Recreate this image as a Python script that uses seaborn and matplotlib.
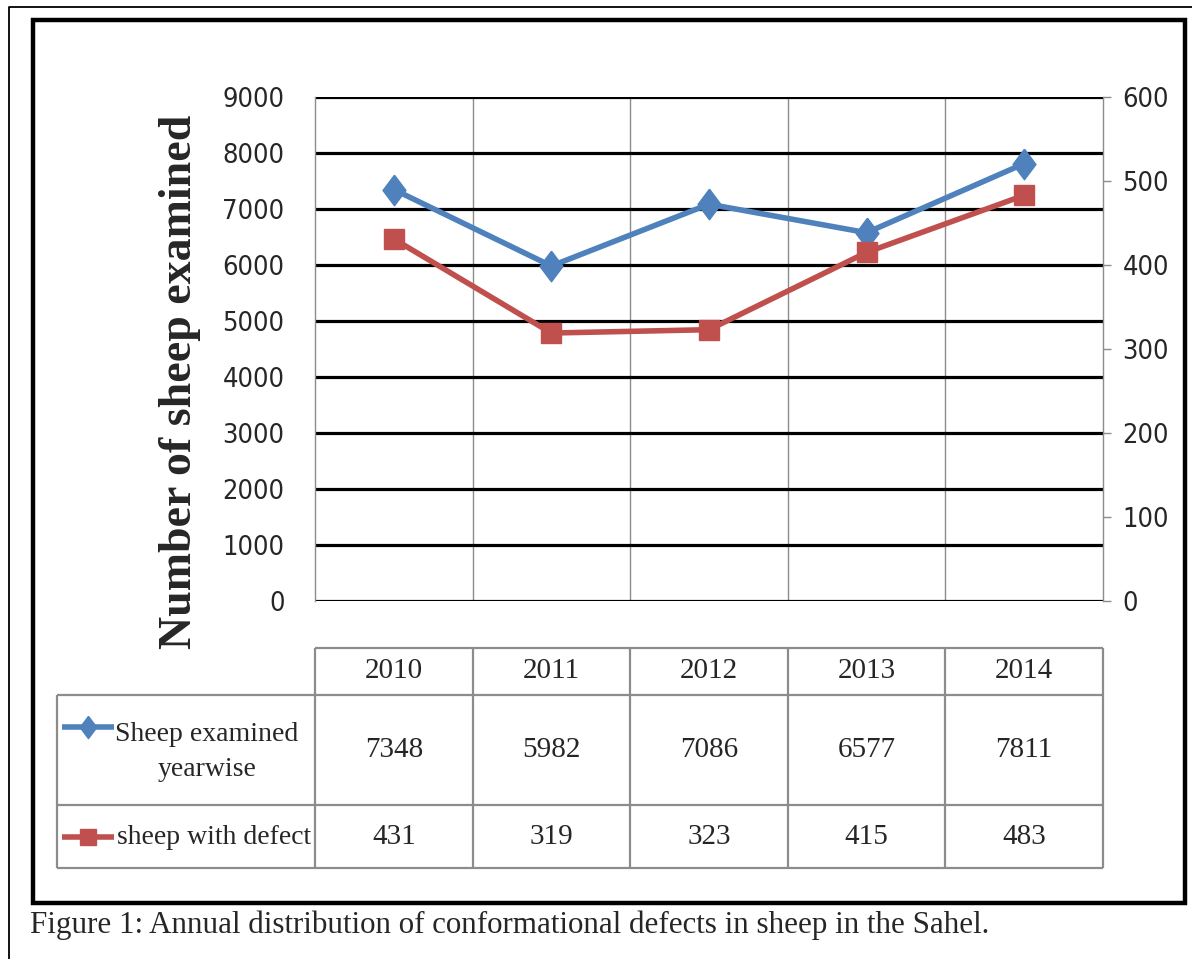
import numpy as np
import pandas as pd
import matplotlib
matplotlib.use("Agg")
import matplotlib.pyplot as plt
import seaborn as sns
from matplotlib.patches import Rectangle

years = ["2010", "2011", "2012", "2013", "2014"]
examined = [7348, 5982, 7086, 6577, 7811]
defect = [431, 319, 323, 415, 483]
series_labels = ["Sheep examined\nyearwise", "sheep with defect"]
left_ticks = list(range(0, 9001, 1000))
right_ticks = list(range(0, 601, 100))
caption = "Figure 1: Annual distribution of conformational defects in sheep in the Sahel."
ylabel = "Number of sheep examined"

blue = "#4F81BD"
red = "#C0504D"
grey = "#8C8C8C"
diamond = [(0, 1), (0.75, 0), (0, -1), (-0.75, 0), (0, 1)]

sns.set_style("white")
plt.rcParams["font.family"] = ["DejaVu Sans"]
plt.rcParams["font.stretch"] = "condensed"
serif = ["Liberation Serif", "DejaVu Serif"]

W, H = 1192, 959
fig = plt.figure(figsize=(W / 100, H / 100), dpi=100)

# plot area, pixels
L, R, T, B = 315, 1103, 97, 601
ax = fig.add_axes([L / W, 1 - B / H, (R - L) / W, (B - T) / H])
ax2 = ax.twinx()

df = pd.DataFrame({"year": np.arange(len(years)), "examined": examined, "defect": defect})
sns.lineplot(data=df, x="year", y="examined", ax=ax, color=blue, lw=4,
             marker=diamond, markersize=22, markeredgecolor=blue, markeredgewidth=1)
sns.lineplot(data=df, x="year", y="defect", ax=ax2, color=red, lw=4,
             marker="s", markersize=14.5, markeredgecolor=red, markeredgewidth=1)

for a in (ax, ax2):
    a.set_xlim(-0.5, len(years) - 0.5)
    a.set_xlabel("")
    a.set_ylabel("")
    for s in a.spines.values():
        s.set_visible(False)

ax.set_ylim(0, 9000)
ax.set_yticks(left_ticks)
ax.set_yticklabels([str(v) for v in left_ticks], fontsize=19.5)
ax.tick_params(axis="y", length=0, pad=22)
ax.set_xticks([])
ax.set_xticks(np.arange(len(years) - 1) + 0.5, minor=True)
ax.tick_params(axis="x", which="minor", length=0)
ax.grid(axis="y", which="major", color="black", lw=2.3)
ax.grid(axis="x", which="minor", color=grey, lw=1)
ax.spines["left"].set_visible(True)
ax.spines["left"].set_color(grey)
ax.spines["left"].set_linewidth(1)

ax2.set_ylim(0, 600)
ax2.set_yticks(right_ticks)
ax2.set_yticklabels([str(v) for v in right_ticks], fontsize=19.5)
ax2.tick_params(axis="y", direction="out", length=6, width=1, color=grey, pad=8)
ax2.spines["right"].set_visible(True)
ax2.spines["right"].set_color(grey)
ax2.spines["right"].set_linewidth(1)
ax2.grid(False)

# overlay in pixel coordinates for frame, table and caption
ov = fig.add_axes([0, 0, 1, 1], zorder=-1)
ov.set_xlim(0, W)
ov.set_ylim(H, 0)
ov.axis("off")

ov.plot([9, 9, W + 5], [H + 5, 7, 7], color="black", lw=1.3)
ov.add_patch(Rectangle((33, 20), 1152, 883, fill=False, ec="black", lw=3.2))

fig.text(180 / W, 1 - 382 / H, ylabel, rotation=90, ha="center", va="center",
         fontsize=33, fontweight="bold", family=serif)

# data table
edges = L + (R - L) * np.arange(len(years) + 1) / len(years)
centers = (edges[:-1] + edges[1:]) / 2
y_head, y_r1, y_r2, y_end = 648, 695, 805, 868
tl = dict(color=grey, lw=1.6, solid_capstyle="butt")
ov.plot([L, R], [y_head, y_head], **tl)
for y in (y_r1, y_r2, y_end):
    ov.plot([57, R], [y, y], **tl)
ov.plot([57, 57], [y_r1, y_end], **tl)
for x in edges:
    ov.plot([x, x], [y_head, y_end], **tl)

tk = dict(ha="center", va="center", fontsize=21, family=serif)
for cx, yr, e, d in zip(centers, years, examined, defect):
    ov.text(cx, (y_head + y_r1) / 2, yr, **tk)
    ov.text(cx, (y_r1 + y_r2) / 2, str(e), **tk)
    ov.text(cx, (y_r2 + y_end) / 2, str(d), **tk)

# legend keys inside the table
for yk, col, mk, ms in ((727, blue, diamond, 16), (837, red, "s", 12)):
    ov.plot([62, 114], [yk, yk], color=col, lw=4, solid_capstyle="butt")
    ov.plot([88], [yk], marker=mk, markersize=ms, color=col)
ov.text(207, 752, series_labels[0], ha="center", va="center", multialignment="center",
        fontsize=20, family=serif, linespacing=1.55)
ov.text(117, 837, series_labels[1], ha="left", va="center", fontsize=20, family=serif)

ov.text(30, 925, caption, ha="left", va="center", fontsize=22.3, family=serif)

fig.savefig("out.png", dpi=100)
